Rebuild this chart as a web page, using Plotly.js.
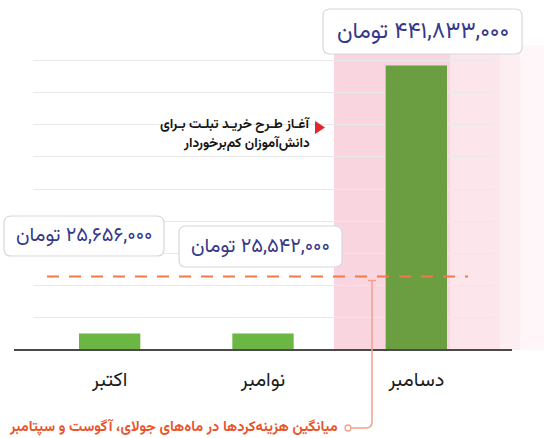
<!DOCTYPE html>
<html><head><meta charset="utf-8">
<script src="https://cdn.plot.ly/plotly-3.0.1.min.js"></script>
<style>html,body{margin:0;padding:0;background:#fff}#chart{width:544px;height:438px}</style>
</head><body><div id="chart"></div>
<script>
// ---- data ----
const months = ['اکتبر', 'نوامبر', 'دسامبر'];
const spending = [25656000, 25542000, 441833000];
const averageJulSep = 114000000;
const unit = 'تومان';
const noteLines = ['آغـاز طـرح خریـد تبلـت بـرای', 'دانش‌آموزان کم‌برخوردار'];
const avgLabel = 'میانگین هزینه‌کردها در ماه‌های جولای، آگوست و سپتامبر';

// ---- layout geometry (pixels) ----
const W = 544, H = 438, M = {l: 33, r: 51, t: 48, b: 88};
const PW = W - M.l - M.r, PH = H - M.t - M.b;
const YMAX = 469e6;
const px = x => (x - M.l) / PW;
const py = y => (H - M.b - y) / PH;
const FONT = 'Vazirmatn, "Noto Sans Arabic", "DejaVu Sans", sans-serif';

const faDigits = '۰۱۲۳۴۵۶۷۸۹';
const toFa = n => n.toLocaleString('en-US').replace(/\d/g, d => faDigits[+d]);

function rr(x0, y0, x1, y1, r) {
  const X = px, Y = py;
  return `M${X(x0 + r)},${Y(y0)} L${X(x1 - r)},${Y(y0)} Q${X(x1)},${Y(y0)} ${X(x1)},${Y(y0 + r)} ` +
         `L${X(x1)},${Y(y1 - r)} Q${X(x1)},${Y(y1)} ${X(x1 - r)},${Y(y1)} L${X(x0 + r)},${Y(y1)} ` +
         `Q${X(x0)},${Y(y1)} ${X(x0)},${Y(y1 - r)} L${X(x0)},${Y(y0 + r)} Q${X(x0)},${Y(y0)} ${X(x0 + r)},${Y(y0)} Z`;
}

// label boxes (pixel boxes) for each month
const boxes = [
  {x0: 4, y0: 216, x1: 164, y1: 256, size: 20},
  {x0: 179, y0: 226, x1: 342, y1: 267, size: 20},
  {x0: 323, y0: 9, x1: 522, y1: 54, size: 23}
];

const shapes = [];
// pink highlight strips
const pink = [
  {a: 334, b: 450, c: '#f8d5df'},
  {a: 450, b: 500, c: '#fce5eb'},
  {a: 500, b: 520, c: '#fdeef2'},
  {a: 520, b: 544, c: '#fef6f8'}
];
pink.forEach(p => shapes.push({type: 'rect', xref: 'paper', yref: 'paper', layer: 'below',
  x0: px(p.a), x1: px(p.b), y0: 0, y1: py(45), line: {width: 0}, fillcolor: p.c}));
// baseline
shapes.push({type: 'line', xref: 'paper', yref: 'paper', x0: px(14), x1: px(512), y0: 0, y1: 0,
  line: {color: '#4a4a4a', width: 2}});
// average dashed line
shapes.push({type: 'line', xref: 'paper', yref: 'y', x0: px(47), x1: px(468),
  y0: averageJulSep, y1: averageJulSep, line: {color: '#f07a48', width: 2, dash: '12px,10px'}});
// connector from average line to its label
const avgPaper = averageJulSep / YMAX;
const avgPix = H - M.b - avgPaper * PH;
shapes.push({type: 'path', xref: 'paper', yref: 'paper', layer: 'above',
  path: `M${px(372)},${py(avgPix + 4)} L${px(372)},${py(422)} Q${px(372)},${py(428)} ${px(366)},${py(428)} L${px(351)},${py(428)}`,
  line: {color: '#f2a08c', width: 1.5}});
shapes.push({type: 'line', xref: 'paper', yref: 'paper', x0: px(368), x1: px(376),
  y0: py(avgPix + 4), y1: py(avgPix + 4), line: {color: '#f2a08c', width: 1.5}});
shapes.push({type: 'circle', xref: 'paper', yref: 'paper', xsizemode: 'pixel', ysizemode: 'pixel',
  xanchor: px(348), yanchor: py(428), x0: -3, x1: 3, y0: -3, y1: 3,
  line: {color: '#f2a08c', width: 1.3}, fillcolor: '#ffffff'});
// note triangle
shapes.push({type: 'path', xref: 'paper', yref: 'paper',
  path: `M${px(315)},${py(121)} L${px(315)},${py(134)} L${px(325)},${py(127.5)} Z`,
  line: {width: 0}, fillcolor: '#e3242b'});
// rounded label boxes
boxes.forEach(b => shapes.push({type: 'path', xref: 'paper', yref: 'paper', layer: 'above',
  path: rr(b.x0, b.y0, b.x1, b.y1, 7), line: {color: '#d6d7df', width: 1.2}, fillcolor: '#ffffff'}));

const annotations = boxes.map((b, i) => ({
  xref: 'paper', yref: 'paper', x: px((b.x0 + b.x1) / 2), y: py((b.y0 + b.y1) / 2),
  xanchor: 'center', yanchor: 'middle', showarrow: false,
  text: unit + '\u200E ' + toFa(spending[i]),
  font: {family: FONT, size: b.size, color: '#35398a'}
}));
const noteY = [125, 143];
noteLines.forEach((t, i) => annotations.push({xref: 'paper', yref: 'paper', x: px(311), y: py(noteY[i]),
  xanchor: 'right', yanchor: 'middle', align: 'right', showarrow: false, borderpad: 0,
  text: '<b>' + t + '</b>', font: {family: FONT, size: 13.5, color: '#151515'}}));
annotations.push({xref: 'paper', yref: 'paper', x: px(339), y: py(427), xanchor: 'right', yanchor: 'middle',
  showarrow: false, borderpad: 0, text: '<b>' + avgLabel + '</b>',
  font: {family: FONT, size: 14.5, color: '#e8552b'}});

const trace = {
  type: 'bar', x: months, y: spending,
  marker: {color: ['#6cb643', '#6cb643', '#6a9e40'], line: {width: 0}},
  hoverinfo: 'skip'
};

const layout = {
  width: W, height: H, margin: M,
  paper_bgcolor: '#ffffff', plot_bgcolor: 'rgba(0,0,0,0)',
  showlegend: false, bargap: 0.6,
  xaxis: {type: 'category', categoryorder: 'array', categoryarray: months, range: [-0.5, 2.5],
    showgrid: false, zeroline: false, showline: false, ticks: '', ticklabelstandoff: 15,
    tickfont: {family: FONT, size: 20, color: '#1c1c1c'}, fixedrange: true},
  yaxis: {range: [0, YMAX], dtick: 50e6, showticklabels: false, gridcolor: '#e9e9ec', gridwidth: 1,
    zeroline: false, showline: false, fixedrange: true},
  shapes, annotations
};

Plotly.newPlot('chart', [trace], layout, {displayModeBar: false, staticPlot: true});
</script></body></html>
